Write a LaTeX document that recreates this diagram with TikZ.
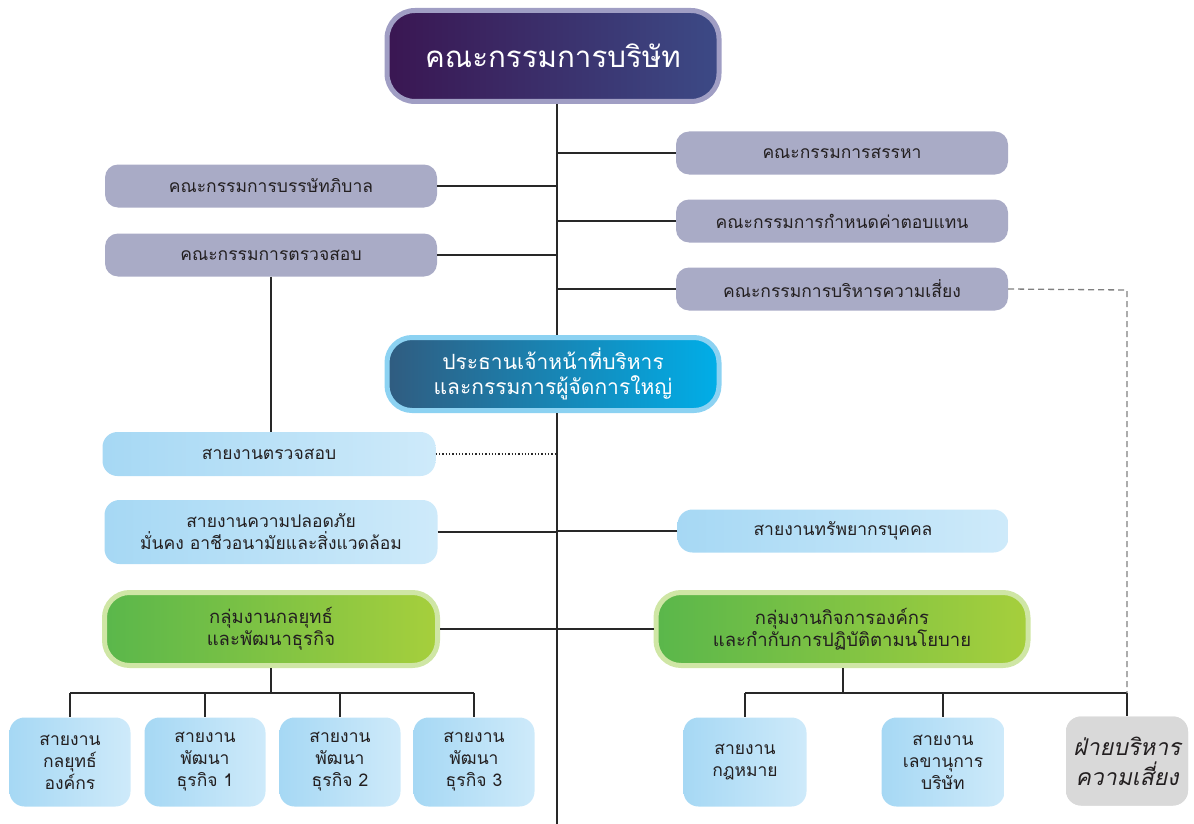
\documentclass[tikz,border=0pt]{standalone}
\usepackage{fontspec}
\setmainfont[Script=Thai]{Loma}
\usetikzlibrary{positioning}

\definecolor{commfill}{RGB}{169,171,198}
\definecolor{boardleft}{RGB}{58,22,82}
\definecolor{boardright}{RGB}{60,74,134}
\definecolor{boardedge}{RGB}{160,158,196}
\definecolor{ceoleft}{RGB}{48,92,128}
\definecolor{ceoright}{RGB}{0,174,232}
\definecolor{ceoedge}{RGB}{140,210,242}
\definecolor{unitleft}{RGB}{166,216,244}
\definecolor{unitright}{RGB}{206,234,250}
\definecolor{grpleft}{RGB}{90,183,75}
\definecolor{grpright}{RGB}{166,207,60}
\definecolor{grpedge}{RGB}{207,230,165}
\definecolor{riskfill}{RGB}{217,217,217}
\definecolor{txt}{RGB}{35,31,32}
\definecolor{wire}{RGB}{40,40,40}

\tikzset{
  comm/.style={fill=commfill, rounded corners=13pt, minimum width=332pt, minimum height=43pt,
    inner sep=0pt, text=txt, font=\fontsize{17.5}{20}\selectfont},
  boardbox/.style={left color=boardleft, right color=boardright, draw=boardedge, line width=5pt,
    rounded corners=28pt, minimum width=332pt, minimum height=91pt, inner sep=0pt,
    text=white, font=\fontsize{29.5}{33}\selectfont},
  ceobox/.style={left color=ceoleft, right color=ceoright, draw=ceoedge, line width=5pt,
    rounded corners=25pt, minimum width=332pt, minimum height=73pt, inner sep=0pt,
    text=white, align=center, font=\fontsize{21}{25}\selectfont},
  unit/.style={left color=unitleft, right color=unitright, rounded corners=15pt,
    minimum width=333pt, minimum height=44pt, inner sep=0pt, text=txt, align=center,
    font=\fontsize{17.5}{22}\selectfont},
  grp/.style={left color=grpleft, right color=grpright, draw=grpedge, line width=5pt,
    rounded corners=25pt, minimum height=73pt, inner sep=0pt, text=txt, align=center,
    font=\fontsize{18.5}{22}\selectfont},
  sub/.style={left color=unitleft, right color=unitright, rounded corners=15pt,
    minimum width=121pt, minimum height=89pt, inner sep=0pt, text=txt, align=center,
    font=\fontsize{17.5}{22}\selectfont},
  wire/.style={draw=wire, line width=1.3pt}
}

\begin{document}
\begin{tikzpicture}[x=1pt, y=-1pt]
  \useasboundingbox (0,0) rectangle (1194,824);

  % board and committees
  \node[boardbox] (board) at (553,56) {คณะกรรมการบริษัท};
  \node[comm] (nomcom)   at (842,153) {คณะกรรมการสรรหา};
  \node[comm] (remcom)   at (842,221) {คณะกรรมการกำหนดค่าตอบแทน};
  \node[comm] (riskcom)  at (842,289) {คณะกรรมการบริหารความเสี่ยง};
  \node[comm] (cgcom)    at (271,186) {คณะกรรมการบรรษัทภิบาล};
  \node[comm] (auditcom) at (271,255) {คณะกรรมการตรวจสอบ};

  % management
  \node[ceobox] (ceo) at (553,374) {ประธานเจ้าหน้าที่บริหาร\\และกรรมการผู้จัดการใหญ่};
  \node[unit] (audit)  at (269,454) {สายงานตรวจสอบ};
  \node[unit, minimum height=64pt] (safety) at (271,532) {สายงานความปลอดภัย\\มั่นคง อาชีวอนามัยและสิ่งแวดล้อม};
  \node[unit, minimum width=331pt, minimum height=43pt] (hr) at (843,531) {สายงานทรัพยากรบุคคล};
  \node[grp, minimum width=333pt] (strat) at (271,629) {กลุ่มงานกลยุทธ์\\และพัฒนาธุรกิจ};
  \node[grp, minimum width=372pt] (corp)  at (842,629) {กลุ่มงานกิจการองค์กร\\และกำกับการปฏิบัติตามนโยบาย};

  % sub units
  \node[sub] (s1) at (70,762)  {สายงาน\\กลยุทธ์\\องค์กร};
  \node[sub] (s2) at (205,762) {สายงาน\\พัฒนา\\ธุรกิจ 1};
  \node[sub] (s3) at (340,762) {สายงาน\\พัฒนา\\ธุรกิจ 2};
  \node[sub] (s4) at (474,762) {สายงาน\\พัฒนา\\ธุรกิจ 3};
  \node[sub, minimum width=123pt] (legal) at (745,762) {สายงาน\\กฎหมาย};
  \node[sub, minimum width=123pt] (secr)  at (943,762) {สายงาน\\เลขานุการ\\บริษัท};
  \node[sub, fill=riskfill, left color=riskfill, right color=riskfill, minimum width=122pt,
    font=\fontsize{23}{30}\selectfont\itshape] (riskdiv) at (1127,761) {ฝ่ายบริหาร\\ความเสี่ยง};

  % spine
  \coordinate (bot) at (557,824);
  \coordinate (lbus) at (271,693);
  \coordinate (rbus) at (843,693);
  \coordinate (rcorner) at (1127,290);

  \draw[wire] (board.south -| bot) -- (ceo.north -| bot);
  \draw[wire] (ceo.south -| bot) -- (bot);
  \foreach \n in {nomcom,remcom,riskcom,hr,corp}
    \draw[wire] (\n.west) -- (\n.west -| bot);
  \foreach \n in {cgcom,auditcom,safety,strat}
    \draw[wire] (\n.east) -- (\n.east -| bot);
  \draw[wire] (auditcom.south) -- (audit.north -| auditcom.south);
  \draw[wire, dotted, line width=1.2pt] (audit.east) -- (audit.east -| bot);

  % branches
  \draw[wire] (strat.south) -- (lbus);
  \draw[wire] (s1.north |- lbus) -- (s4.north |- lbus);
  \foreach \n in {s1,s2,s3,s4}
    \draw[wire] (\n.north |- lbus) -- (\n.north);
  \draw[wire] (corp.south -| rbus) -- (rbus);
  \draw[wire] (legal.north |- rbus) -- (riskdiv.north |- rbus);
  \foreach \n in {legal,secr,riskdiv}
    \draw[wire] (\n.north |- rbus) -- (\n.north);
  \draw[wire, draw=gray, dash pattern=on 6pt off 4pt] (riskcom.east) -- (rcorner) -- (riskdiv.north |- rbus);
\end{tikzpicture}
\end{document}
